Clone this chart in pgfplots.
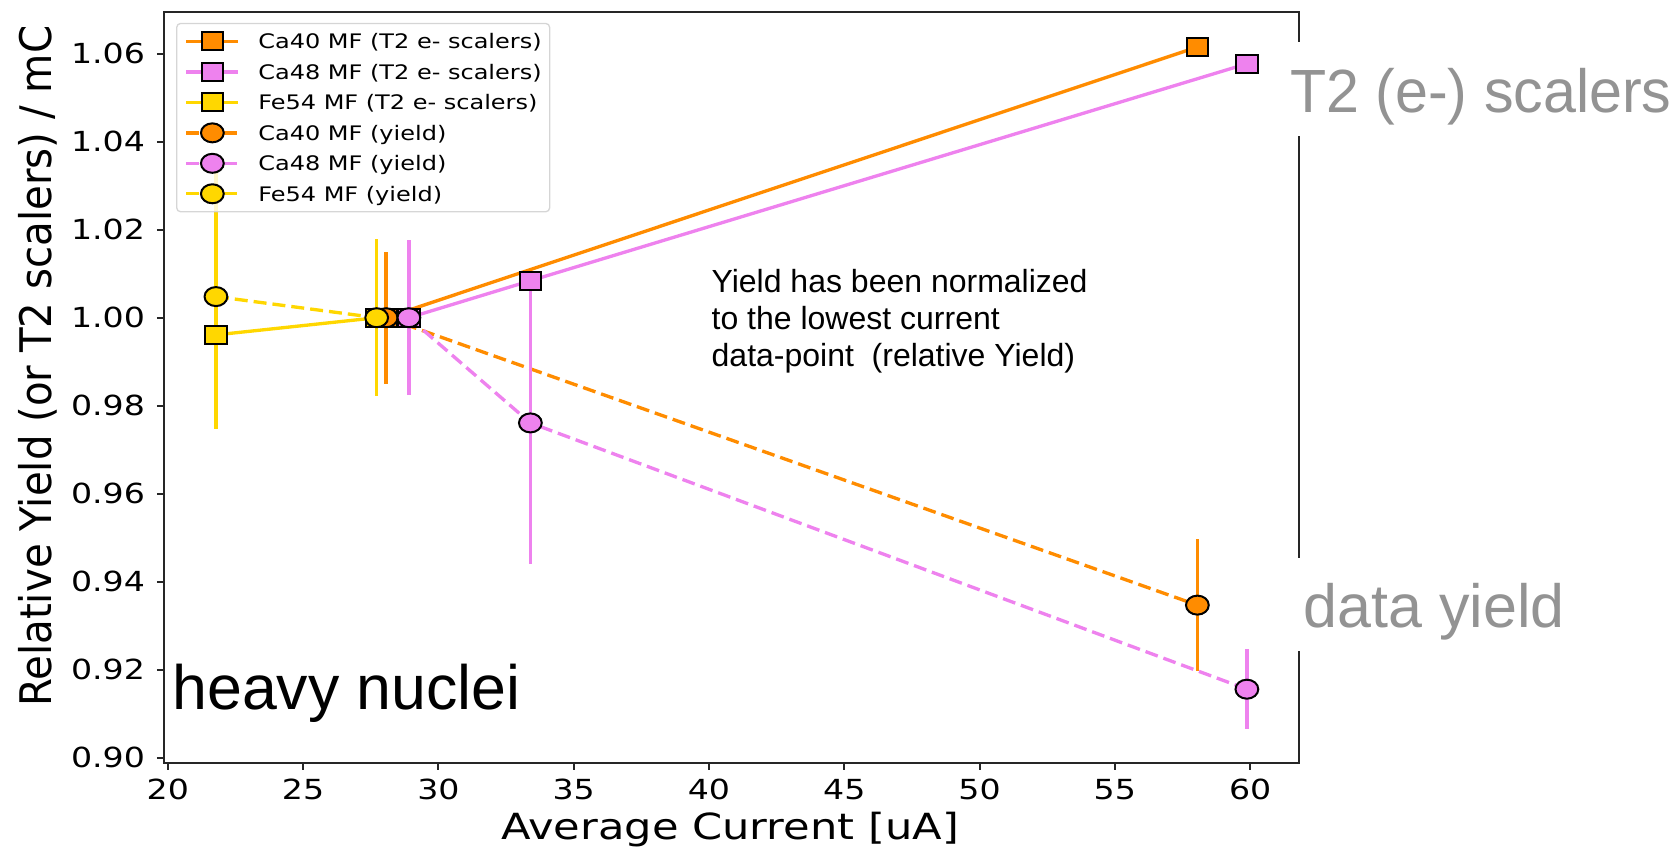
\documentclass[border=0pt]{standalone}
\usepackage{pgfplots}
\pgfplotsset{compat=1.18}
\usepackage{pgfplotstable}
\usepackage{fontspec}
\setmainfont{DejaVu Sans}
\newfontfamily\helv{Liberation Sans}
\definecolor{corange}{HTML}{FF8C00}
\definecolor{cviolet}{HTML}{EE82EE}
\definecolor{cgold}{HTML}{FFD700}
\definecolor{annogray}{HTML}{939393}

\pgfplotstableread{
x y
28.07 1.0000
58.05 1.0615
}\caFortyT
\pgfplotstableread{
x y
28.91 1.0000
33.40 1.0084
59.88 1.0577
}\caFortyEightT
\pgfplotstableread{
x y
21.78 0.9961
27.72 1.0000
}\feT
\pgfplotstableread{
x y e
28.07 1.0000 0.0150
58.05 0.9347 0.0150
}\caFortyY
\pgfplotstableread{
x y e
28.91 1.0000 0.0176
33.40 0.9761 0.0320
59.88 0.9156 0.0091
}\caFortyEightY
\pgfplotstableread{
x y e
21.78 1.0048 0.0300
27.72 1.0000 0.0178
}\feY

\begin{document}
\begin{tikzpicture}
\begin{scope}[x=0.3pt,y=-0.3pt]
\useasboundingbox (0,0) rectangle (1677,852);
\end{scope}
\begin{axis}[
  at={(49.2pt,-228.81pt)}, anchor=south west,
  scale only axis, width=340.38pt, height=225.27pt,
  xmin=19.86, xmax=61.79, ymin=0.8989, ymax=1.0695,
  xtick={20,25,30,35,40,45,50,55,60},
  ytick={0.90,0.92,0.94,0.96,0.98,1.00,1.02,1.04,1.06},
  yticklabels={0.90,0.92,0.94,0.96,0.98,1.00,1.02,1.04,1.06},
  xtick pos=bottom, ytick pos=left,
  tick align=outside, major tick length=2.1pt,
  tick style={black!85, line width=0.6pt},
  axis line style={black!85, line width=0.6pt},
  /pgf/number format/assume math mode=true,
  ticklabel style={font=\fontsize{8.3pt}{9pt}\selectfont, inner sep=0pt, xscale=1.2},
  xticklabel style={yshift=-2.6pt},
  yticklabel style={xshift=-2.8pt},
  xlabel={Average Current [uA]},
  ylabel={Relative Yield (or T2 scalers) / mC},
  xlabel style={font=\fontsize{10.8pt}{12pt}\selectfont, inner sep=0pt, at={(axis description cs:0.4989,-0.1025)}, anchor=base, xscale=1.2},
  ylabel style={font=\fontsize{12.1pt}{13pt}\selectfont, inner sep=0pt, at={(axis description cs:-0.0992,0.528)}, anchor=base, yscale=1.08},
  legend cell align=left,
  legend style={at={(0.0106,0.9854)}, anchor=north west, draw=black!20, draw opacity=0.8,
    fill=white, fill opacity=0.8, text opacity=1, rounded corners=1.2pt, line width=0.4pt,
    font=\fontsize{6pt}{7pt}\selectfont, inner xsep=2.4pt, inner ysep=2.2pt, row sep=2.74pt,
    nodes={inner sep=0pt, text height=5.4pt, text depth=1.0pt, xscale=1.2},
    /tikz/every odd column/.append style={column sep=5.5pt}},
  legend image code/.code={\draw[opacity=1, mark repeat=2, mark phase=2, #1] plot coordinates {(0pt,0pt) (7.8pt,0pt) (15.6pt,0pt)};},
  scaler/.style={color=#1, line width=1.0pt, mark=square*, mark size=2.7pt,
    mark options={fill=#1, draw=black, line width=0.6pt, xscale=1.2, solid}},
  yieldp/.style={color=#1, line width=1.0pt, dash pattern=on 3.9pt off 1.8pt, mark=*, mark size=2.85pt,
    mark options={fill=#1, draw=black, line width=0.6pt, xscale=1.2, solid},
    error bars/.cd, y dir=both, y explicit, error mark=none,
    error bar style={solid, line width=1.0pt, color=#1}},
]
\addplot[scaler=corange] table[x=x,y=y]{\caFortyT};
\addlegendentry{Ca40 MF (T2 e- scalers)}
\addplot[scaler=cviolet] table[x=x,y=y]{\caFortyEightT};
\addlegendentry{Ca48 MF (T2 e- scalers)}
\addplot[scaler=cgold] table[x=x,y=y]{\feT};
\addlegendentry{Fe54 MF (T2 e- scalers)}
\addplot[yieldp=corange] table[x=x,y=y,y error=e]{\caFortyY};
\addlegendentry{Ca40 MF (yield)}
\addplot[yieldp=cviolet] table[x=x,y=y,y error=e]{\caFortyEightY};
\addlegendentry{Ca48 MF (yield)}
\addplot[yieldp=cgold] table[x=x,y=y,y error=e]{\feY};
\addlegendentry{Fe54 MF (yield)}
\end{axis}
\begin{scope}[x=0.3pt,y=-0.3pt]
\fill[white] (1285,42) rectangle (1677,136);
\node[anchor=base west, inner sep=0pt, text=annogray, font=\helv\fontsize{18.3pt}{20pt}\selectfont, xscale=0.97] at (1289.5,112.6) {T2 (e-) scalers};
\fill[white] (1290,558) rectangle (1600,651);
\node[anchor=base west, inner sep=0pt, text=annogray, font=\helv\fontsize{18.3pt}{20pt}\selectfont] at (1303,627.7) {data yield};
\node[anchor=base west, inner sep=0pt, font=\helv\fontsize{18.8pt}{20pt}\selectfont] at (171.7,709) {heavy nuclei};
\node[anchor=base west, inner sep=0pt, font=\helv\fontsize{9.6pt}{10pt}\selectfont] at (711,292) {Yield has been normalized};
\node[anchor=base west, inner sep=0pt, font=\helv\fontsize{9.6pt}{10pt}\selectfont] at (711,329.4) {to the lowest current};
\node[anchor=base west, inner sep=0pt, font=\helv\fontsize{9.6pt}{10pt}\selectfont] at (711,366.8) {data-point\ \ (relative Yield)};
\end{scope}
\pgfresetboundingbox
\begin{scope}[x=0.3pt,y=-0.3pt]
\useasboundingbox (0,0) rectangle (1677,852);
\end{scope}
\end{tikzpicture}
\end{document}
